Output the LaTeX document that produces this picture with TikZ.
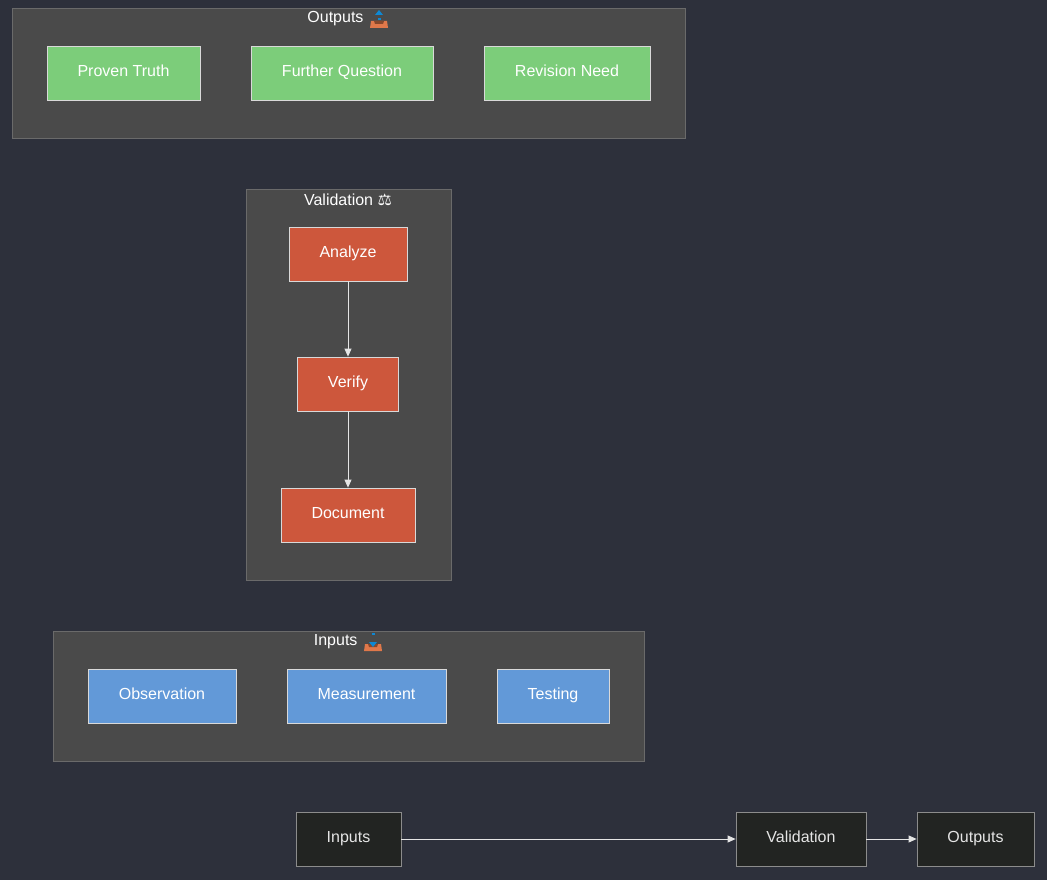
\documentclass[tikz,border=0pt]{standalone}
\usepackage{fontspec}
\setmainfont{Liberation Sans}
\newfontfamily\symfont{DejaVu Sans}
\usetikzlibrary{arrows.meta}
\definecolor{bgcol}{HTML}{2D303B}
\definecolor{clustercol}{HTML}{4A4A4A}
\definecolor{clusterline}{HTML}{6A6A6A}
\definecolor{greencol}{HTML}{7CCD7A}
\definecolor{redcol}{HTML}{CD573C}
\definecolor{bluecol}{HTML}{6299D8}
\definecolor{flowcol}{HTML}{222422}
\definecolor{traycol}{HTML}{E0784A}
\tikzset{
  cluster/.style={draw=clusterline, fill=clustercol, line width=0.8pt},
  title/.style={text=white, font=\fontsize{16}{18}\selectfont},
  box/.style={draw=white!70!gray, line width=0.8pt, text=white, minimum height=54pt,
    font=\fontsize{16}{18}\selectfont, inner sep=0pt, text height=11pt, text depth=3.5pt},
  outbox/.style={box, fill=greencol},
  valbox/.style={box, fill=redcol},
  inbox/.style={box, fill=bluecol},
  flowbox/.style={box, fill=flowcol, draw=gray!90, text=white!80!gray},
  arr/.style={draw=white!80!gray, -{Triangle[length=8pt,width=7pt]}, line width=0.8pt},
  % tray symbol, arrow up (#1=1) or down (#1=-1)
  pics/tray/.style={code={
    \fill[traycol] (-8,2) -- (8,2) -- (9,9) -- (-9,9) -- cycle;
    \fill[traycol!60!black] (-5,2) -- (5,2) -- (4,5) -- (-4,5) -- cycle;
    \fill[cyan!70!blue] (-1.5,{1-4*(1-#1)}) -- (1.5,{1-4*(1-#1)}) -- (1.5,{-5-4*(1-#1)+4}) -- (-1.5,{-5-4*(1-#1)+4}) -- cycle;
    \fill[cyan!70!blue] (-4,{-2*#1-2}) -- (4,{-2*#1-2}) -- (0,{-7*#1-2}) -- cycle;
  }}
}
\begin{document}
\begin{tikzpicture}[x=1pt, y=-1pt]
  \fill[bgcol] (0,0) rectangle (1047,880);
  \useasboundingbox (0,0) rectangle (1047,880);

  % Outputs cluster
  \draw[cluster] (12,8) rectangle (685,138);
  \node[title, anchor=east] (outT) at (367,19) {Outputs};
  \pic at ([xshift=12pt]outT.east) {tray=1};
  \node[outbox, minimum width=153pt] (truth) at (123.5,73) {Proven Truth};
  \node[outbox, minimum width=182pt] (question) at (342,73) {Further Question};
  \node[outbox, minimum width=166pt] (revision) at (567,73) {Revision Need};

  % Validation cluster
  \draw[cluster] (246,189) rectangle (451,580);
  \node[title] (valT) at (348,200) {Validation {\symfont ⚖️}};
  \node[valbox, minimum width=118pt] (analyze) at (348,254) {Analyze};
  \node[valbox, minimum width=101pt] (verify) at (348,384) {Verify};
  \node[valbox, minimum width=134pt] (document) at (348,515) {Document};
  \draw[arr] (analyze) -- (verify);
  \draw[arr] (verify) -- (document);

  % Inputs cluster
  \draw[cluster] (53,631) rectangle (644,761);
  \node[title, anchor=east] (inT) at (361,642) {Inputs};
  \pic at ([xshift=12pt]inT.east) {tray=-1};
  \node[inbox, minimum width=148pt] (observation) at (162,696) {Observation};
  \node[inbox, minimum width=159pt] (measurement) at (366.5,696) {Measurement};
  \node[inbox, minimum width=112pt] (testing) at (553,696) {Testing};

  % Flow
  \node[flowbox, minimum width=105pt] (inputs) at (348.5,839) {Inputs};
  \node[flowbox, minimum width=130pt] (validation) at (801,839) {Validation};
  \node[flowbox, minimum width=117pt] (outputs) at (975.5,839) {Outputs};
  \draw[arr] (inputs) -- (validation);
  \draw[arr] (validation) -- (outputs);
\end{tikzpicture}
\end{document}
